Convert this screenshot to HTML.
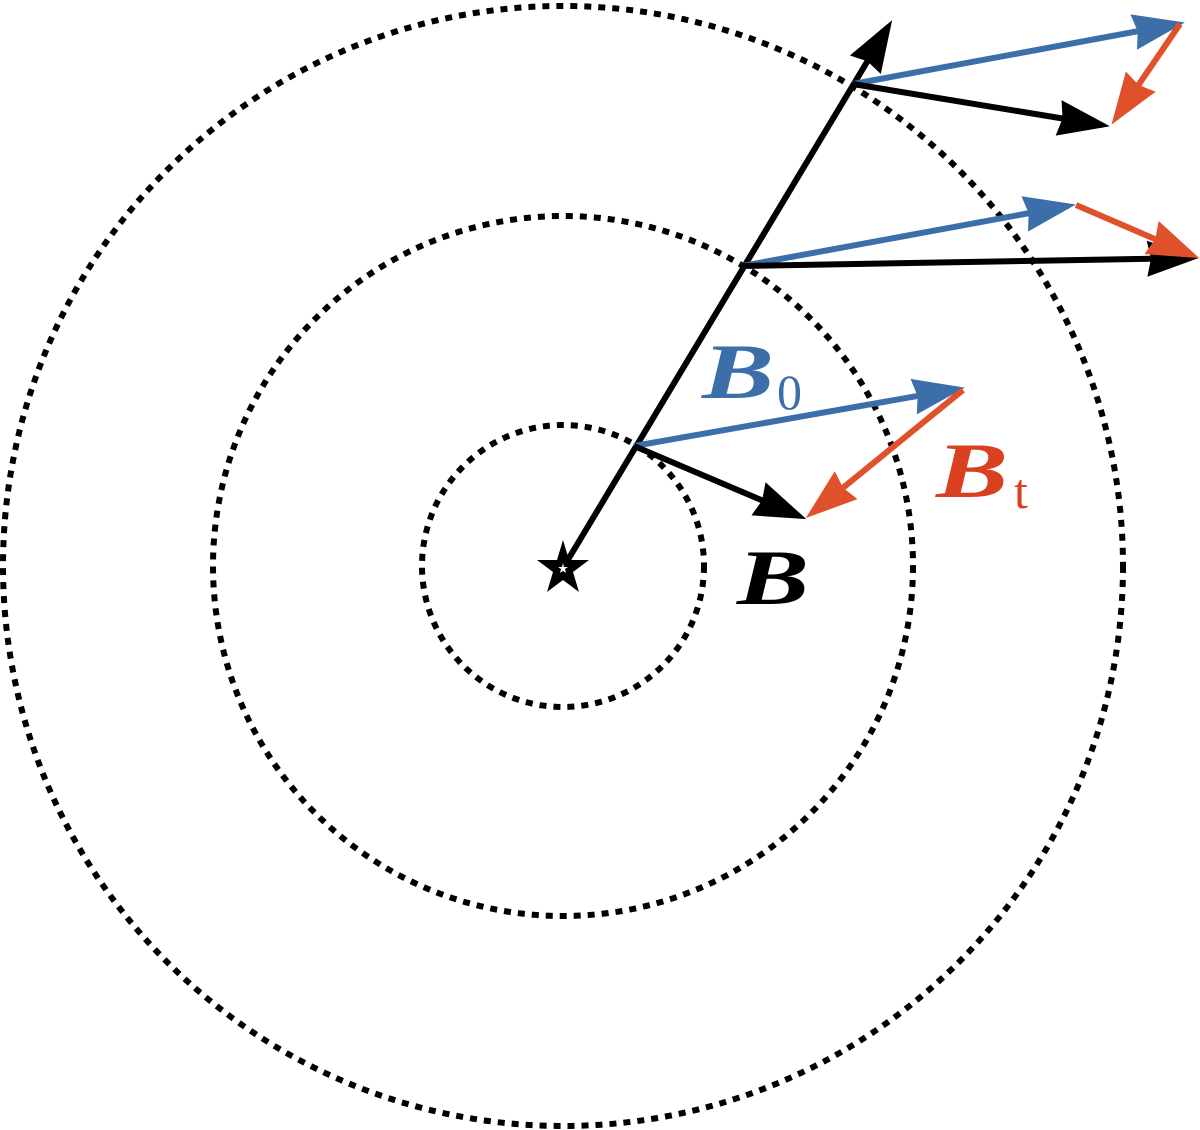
<!DOCTYPE html>
<html><head><meta charset="utf-8"><style>html,body{margin:0;padding:0;background:#fff}svg{display:block}</style></head>
<body>
<svg width="1200" height="1130" viewBox="0 0 1200 1130" xmlns="http://www.w3.org/2000/svg">
<defs>
<marker id="k" markerUnits="userSpaceOnUse" markerWidth="60" markerHeight="50" refX="44" refY="20" orient="auto"><path d="M0,2 L52,20 L0,38 L4,20 Z" fill="#000"/></marker>
<marker id="b" markerUnits="userSpaceOnUse" markerWidth="60" markerHeight="50" refX="44" refY="20" orient="auto"><path d="M0,2 L52,20 L0,38 L4,20 Z" fill="#3c6eaa"/></marker>
<marker id="r" markerUnits="userSpaceOnUse" markerWidth="60" markerHeight="50" refX="44" refY="20" orient="auto"><path d="M0,2 L52,20 L0,38 L4,20 Z" fill="#e0502a"/></marker>
</defs>
<g fill="none" stroke="#000" stroke-width="6" stroke-dasharray="7 7">
<circle cx="563" cy="566" r="141"/>
<circle cx="563" cy="566" r="350"/>
<circle cx="563" cy="566" r="560"/>
</g>
<g stroke-width="6" fill="none">
<line x1="563" y1="568" x2="888" y2="27" stroke="#000" marker-end="url(#k)"/>
<line x1="634" y1="446" x2="957" y2="389" stroke="#3c6eaa" marker-end="url(#b)"/>
<line x1="634" y1="446" x2="799" y2="516" stroke="#000" marker-end="url(#k)"/>
<line x1="963" y1="390" x2="812" y2="513" stroke="#e0502a" marker-end="url(#r)"/>
<line x1="742" y1="266" x2="1068" y2="206" stroke="#3c6eaa" marker-end="url(#b)"/>
<line x1="742" y1="266" x2="1191" y2="258" stroke="#000" marker-end="url(#k)"/>
<line x1="1076" y1="205" x2="1192" y2="255" stroke="#e0502a" marker-end="url(#r)"/>
<line x1="853" y1="84" x2="1177" y2="24" stroke="#3c6eaa" marker-end="url(#b)"/>
<line x1="853" y1="84" x2="1102" y2="125" stroke="#000" marker-end="url(#k)"/>
<line x1="1180" y1="24" x2="1116" y2="118" stroke="#e0502a" marker-end="url(#r)"/>
</g>
<polygon points="563,540 569,560 589,560 573,572 579,592 563,580 547,592 553,572 537,560 557,560" fill="#000"/>
<polygon points="563,563 564,567 568,567 565,569 566,573 563,571 560,573 561,569 558,567 562,567" fill="#fff"/>
<g font-family="Liberation Serif, serif" font-style="italic" font-weight="bold">
<text x="702" y="398" font-size="78" textLength="72" lengthAdjust="spacingAndGlyphs" fill="#3c6eaa">B</text>
<text x="936" y="497" font-size="78" textLength="72" lengthAdjust="spacingAndGlyphs" fill="#d94020">B</text>
<text x="737" y="604" font-size="78" textLength="72" lengthAdjust="spacingAndGlyphs" fill="#000">B</text>
</g>
<g font-family="Liberation Serif, serif">
<text x="777" y="409" font-size="50" fill="#3c6eaa">0</text>
<text x="1014" y="508" font-size="50" fill="#d94020">t</text>
</g>
</svg>
</body></html>
